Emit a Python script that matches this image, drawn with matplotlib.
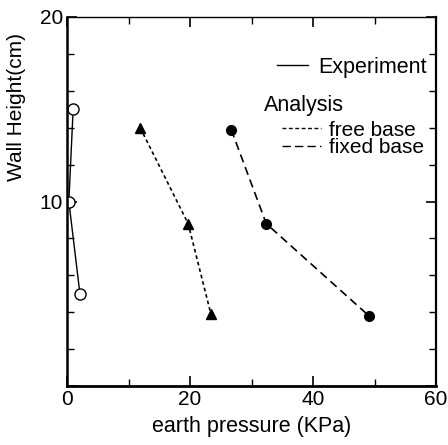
import matplotlib.pyplot as plt
from matplotlib.lines import Line2D
from matplotlib.ticker import MultipleLocator

plt.rcParams['font.family'] = ['Liberation Sans', 'DejaVu Sans']

# ---------------------------
# Data
# ---------------------------
exp_pressure = [1.0, 0.3, 2.1]
exp_height = [15, 10, 5]

free_pressure = [11.9, 19.7, 23.4]
free_height = [14.0, 8.8, 3.9]

fixed_pressure = [26.7, 32.4, 49.1]
fixed_height = [13.9, 8.8, 3.8]

x_ticks = [0, 20, 40, 60]
y_ticks = [0, 10, 20]
y_tick_labels = ['', '10', '20']

# ---------------------------
# Figure
# ---------------------------
fig = plt.figure(figsize=(4.48, 4.45), dpi=100)
ax = fig.add_axes([67 / 448, 59 / 445, 369 / 448, 369 / 445])

ax.plot(exp_pressure, exp_height, color='black', lw=1.0,
        marker='o', ms=8, mfc='white', mec='black', mew=1.0)
ax.plot(free_pressure, free_height, color='black', lw=1.2,
        dashes=(2.2, 1.8), marker='^', ms=6.5, mfc='black', mec='black')
ax.plot(fixed_pressure, fixed_height, color='black', lw=1.2,
        dashes=(5, 3), marker='o', ms=7, mfc='black', mec='black')

ax.set_xlim(0, 60)
ax.set_ylim(0, 20)
ax.set_xticks(x_ticks)
ax.set_yticks(y_ticks)
ax.set_yticklabels(y_tick_labels)
ax.xaxis.set_minor_locator(MultipleLocator(10))
ax.yaxis.set_minor_locator(MultipleLocator(2))
ax.tick_params(which='both', direction='in', top=True, right=True,
               labelsize=15, pad=3)
ax.tick_params(which='major', length=7, width=1.2)
ax.tick_params(which='minor', length=5, width=1.0)

for side, lw in [('left', 1.8), ('bottom', 2.0), ('right', 1.6), ('top', 1.0)]:
    ax.spines[side].set_linewidth(lw)

ax.set_xlabel('earth pressure (KPa)', fontsize=15.5, labelpad=5)
ax.set_ylabel('Wall Height(cm)', fontsize=15)
ax.yaxis.set_label_coords(-0.11, 0.755)

# Legend: experiment on top, analysis group below
leg1 = ax.legend(handles=[Line2D([], [], color='black', lw=1.0)],
                 labels=['Experiment'], loc='upper right',
                 bbox_to_anchor=(0.998, 0.915), frameon=False, fontsize=15.5,
                 handlelength=1.45, handletextpad=0.45, borderaxespad=0.0)
ax.add_artist(leg1)
ax.text(0.535, 0.76, 'Analysis', transform=ax.transAxes, fontsize=15.5,
        ha='left', va='center')
ax.legend(handles=[Line2D([], [], color='black', lw=1.0, dashes=(2.8, 1.8)),
                   Line2D([], [], color='black', lw=1.0, dashes=(6, 3))],
          labels=['free base', 'fixed base'], loc='upper right',
          bbox_to_anchor=(0.99, 0.742), frameon=False, fontsize=15,
          handlelength=1.85, handletextpad=0.4, labelspacing=-0.05,
          borderaxespad=0.0)

fig.savefig('out.png', dpi=100)
